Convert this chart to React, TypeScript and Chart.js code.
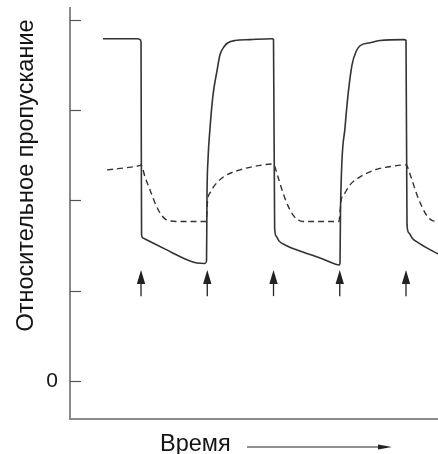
import React, { useEffect, useRef } from "react";
import { Chart, registerables } from "chart.js";

Chart.register(...registerables);

// ---- Data (time in arbitrary units; arrows mark switching moments) ----
const SOLID_T = [
  0.426, 0.955, 0.985, 1.0, 1.008, 1.03, 1.06, 1.388, 1.634, 1.845, 1.966, 1.989,
  1.996, 2.011, 2.042, 2.087, 2.147, 2.192, 2.253, 2.313, 2.419, 2.645, 2.977, 3.0,
  3.017, 3.038, 3.083, 3.174, 3.4, 3.702, 3.928, 3.989, 4.004,
  4.011, 4.079, 4.125, 4.185, 4.245, 4.306, 4.457, 4.608, 4.97, 5.0,
  5.015, 5.045, 5.091, 5.166, 5.287, 5.483,
];
const SOLID_V = [
  3.79, 3.79, 3.78, 3.756, 1.62, 1.584, 1.573, 1.452, 1.363, 1.307, 1.302, 1.33,
  2.061, 2.449, 2.803, 3.169, 3.435, 3.612, 3.701, 3.745, 3.77, 3.78, 3.79, 3.78,
  1.695, 1.607, 1.551, 1.507, 1.44, 1.363, 1.296, 1.285, 1.307,
  1.884, 2.803, 3.169, 3.501, 3.645, 3.712, 3.745, 3.77, 3.78, 3.77,
  1.729, 1.64, 1.584, 1.54, 1.485, 1.407,
];

const DASHED_T = [
  0.487, 0.758, 0.985, 1.0, 1.06, 1.136, 1.211, 1.287, 1.362, 1.438, 1.589, 1.981,
  1.996, 2.004, 2.042, 2.117, 2.268, 2.494, 2.796, 2.992,
  3.008, 3.068, 3.143, 3.219, 3.294, 3.37, 3.445, 3.989,
  4.004, 4.019, 4.079, 4.155, 4.306, 4.532, 4.834, 5.0,
  5.015, 5.075, 5.166, 5.242, 5.317, 5.392, 5.483,
];
const DASHED_V = [
  2.338, 2.36, 2.388, 2.393, 2.26, 2.116, 1.972, 1.861, 1.795, 1.773, 1.767, 1.767,
  1.873, 1.994, 2.083, 2.172, 2.271, 2.338, 2.388, 2.404,
  2.393, 2.26, 2.083, 1.939, 1.839, 1.784, 1.767, 1.767,
  1.873, 1.994, 2.083, 2.172, 2.26, 2.338, 2.382, 2.393,
  2.382, 2.26, 2.061, 1.928, 1.828, 1.778, 1.767,
];

const ARROW_TIMES = [1, 2, 3, 4, 5];
const ARROW_BASE = 0.94;
const ARROW_TIP = 1.23;

const TICK_VALUES = [0, 1, 2, 3, 4];
const X_MIN = -0.072;
const X_MAX = 5.483;
const Y_MIN = -0.42;
const Y_MAX = 4.13;

const Y_TITLE = "Относительное пропускание";
const X_TITLE = "Время";

const FONT = "'Liberation Sans', Arial, sans-serif";
const LINE_COLOR = "#333333";
const AXIS_COLOR = "#8a8a8a";
const TEXT_COLOR = "#151515";

const zip = (t: number[], v: number[]) => t.map((x, i) => ({ x, y: v[i] }));

const overlayPlugin = {
  id: "overlay",
  afterDatasetsDraw(chart: any) {
    const { ctx } = chart;
    const xs = chart.scales.x;
    const ys = chart.scales.y;
    ctx.save();
    // inward tick marks
    ctx.strokeStyle = "#555555";
    ctx.lineWidth = 1.2;
    TICK_VALUES.forEach((v) => {
      const py = Math.round(ys.getPixelForValue(v)) + 0.5;
      ctx.beginPath();
      ctx.moveTo(xs.left, py);
      ctx.lineTo(xs.left + 11, py);
      ctx.stroke();
    });
    // event arrows
    ctx.strokeStyle = "#222222";
    ctx.fillStyle = "#222222";
    ctx.lineWidth = 1.3;
    ARROW_TIMES.forEach((t) => {
      const px = xs.getPixelForValue(t);
      const yTip = ys.getPixelForValue(ARROW_TIP);
      const yBase = ys.getPixelForValue(ARROW_BASE);
      const headLen = 14;
      const half = 4.2;
      ctx.beginPath();
      ctx.moveTo(px, yBase);
      ctx.lineTo(px, yTip + headLen - 1);
      ctx.stroke();
      ctx.beginPath();
      ctx.moveTo(px, yTip);
      ctx.lineTo(px - half, yTip + headLen);
      ctx.lineTo(px + half, yTip + headLen);
      ctx.closePath();
      ctx.fill();
    });
    ctx.restore();
  },
  afterDraw(chart: any) {
    const { ctx } = chart;
    ctx.save();
    ctx.fillStyle = TEXT_COLOR;
    ctx.font = `23.5px ${FONT}`;
    // y title
    ctx.save();
    ctx.translate(33, 175.5);
    ctx.rotate(-Math.PI / 2);
    ctx.textAlign = "center";
    ctx.textBaseline = "alphabetic";
    ctx.fillText(Y_TITLE, 0, 0);
    ctx.restore();
    // x title
    ctx.textAlign = "left";
    ctx.textBaseline = "alphabetic";
    ctx.fillText(X_TITLE, 160, 451);
    // time arrow
    ctx.strokeStyle = "#222222";
    ctx.fillStyle = "#222222";
    ctx.lineWidth = 1.2;
    ctx.beginPath();
    ctx.moveTo(247, 447);
    ctx.lineTo(380, 447);
    ctx.stroke();
    ctx.beginPath();
    ctx.moveTo(392, 447);
    ctx.lineTo(378, 444.5);
    ctx.lineTo(378, 449.5);
    ctx.closePath();
    ctx.fill();
    ctx.restore();
  },
};

export default function App() {
  const ref = useRef<HTMLCanvasElement | null>(null);

  useEffect(() => {
    if (!ref.current) return;
    const chart = new Chart(ref.current, {
      type: "line",
      data: {
        datasets: [
          {
            label: "solid",
            data: zip(SOLID_T, SOLID_V),
            borderColor: LINE_COLOR,
            borderWidth: 1.6,
            pointRadius: 0,
            cubicInterpolationMode: "monotone",
            fill: false,
          },
          {
            label: "dashed",
            data: zip(DASHED_T, DASHED_V),
            borderColor: LINE_COLOR,
            borderWidth: 1.4,
            borderDash: [6, 4],
            pointRadius: 0,
            cubicInterpolationMode: "monotone",
            fill: false,
          },
        ],
      },
      options: {
        responsive: false,
        animation: false,
        layout: { padding: { top: 8, left: 0, right: 0, bottom: 0 } },
        plugins: { legend: { display: false }, tooltip: { enabled: false } },
        scales: {
          x: {
            type: "linear",
            min: X_MIN,
            max: X_MAX,
            ticks: { display: false },
            grid: { display: false, drawTicks: false },
            border: { display: true, color: AXIS_COLOR, width: 2 },
            afterFit: (s: any) => {
              s.height = 35;
              s.paddingLeft = 0;
              s.paddingRight = 0;
            },
          },
          y: {
            type: "linear",
            min: Y_MIN,
            max: Y_MAX,
            ticks: {
              stepSize: 1,
              includeBounds: false,
              padding: 12,
              color: TEXT_COLOR,
              font: { family: FONT, size: 21 },
              callback: (v: any) => (Number(v) === 0 ? "0" : ""),
            },
            grid: { display: false, drawTicks: false },
            border: { display: true, color: AXIS_COLOR, width: 2 },
            afterFit: (s: any) => {
              s.width = 70;
              s.paddingTop = 0;
              s.paddingBottom = 0;
            },
          },
        },
      },
      plugins: [overlayPlugin],
    } as any);
    return () => chart.destroy();
  }, []);

  return (
    <div style={{ position: "fixed", left: 0, top: 0, width: 438, height: 454, background: "#fff" }}>
      <canvas ref={ref} width={438} height={454} style={{ display: "block" }} />
    </div>
  );
}
